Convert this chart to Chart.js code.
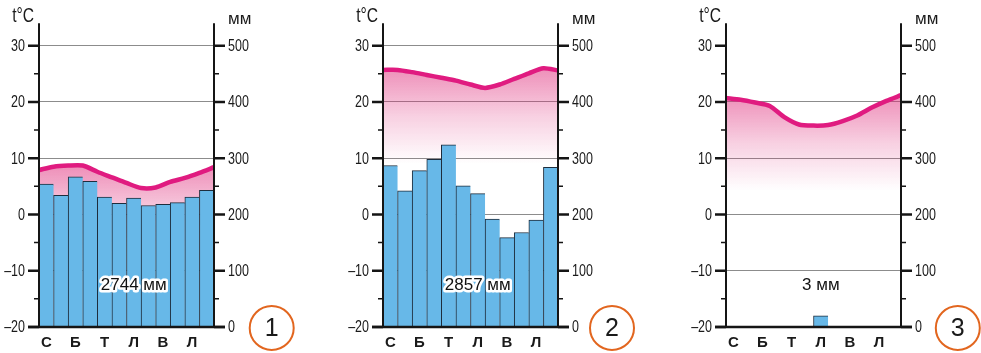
<!DOCTYPE html>
<html><head><meta charset="utf-8">
<script src="https://cdn.jsdelivr.net/npm/chart.js@4.4.1/dist/chart.umd.min.js"></script>
<style>
html,body{margin:0;padding:0;background:#fff;}
#wrap{position:relative;width:981px;height:353px;overflow:hidden;background:#fff;}
.p{position:absolute;top:0;}
</style></head><body>
<div id="wrap">
<canvas id="c1" class="p" style="left:0px" width="310" height="353"></canvas>
<canvas id="c2" class="p" style="left:343.7px" width="310" height="353"></canvas>
<canvas id="c3" class="p" style="left:687px" width="294" height="353"></canvas>
</div>
<script>
// ---- data ----
const months = ['С','','Б','','Т','','Л','','В','','Л',''];
const tempTicks = [-20,-10,0,10,20,30];
const mmTicks = [0,100,200,300,400,500];

const precip1 = [254,234,267,259,231,220,229,216,218,221,231,243];
const temp1 = [7.9,8.5,8.7,8.7,7.6,6.6,5.6,4.7,4.8,5.8,6.5,7.4,8.4];
const total1 = '2744 мм';

const precip2 = [287,242,278,298,324,251,237,192,159,168,190,284];
const temp2 = [25.7,25.7,25.3,24.8,24.3,23.8,23.1,22.5,23.1,24.1,25.1,26.0,25.6];
const total2 = '2857 мм';

const precip3 = [0,0,0,0,0,0,20,0,0,0,0,0];
const temp3 = [20.7,20.4,19.9,19.3,17.3,16.0,15.8,15.9,16.6,17.6,19.0,20.2,21.2];
const total3 = '3 мм';

// ---- styles ----
const REG = '"Liberation Sans",Arial,sans-serif';
const BAR = '#67b8e8';
const BAR_EDGE = '#1d2d3d';
const LINE = '#e01b80';
const AXIS = '#151515';
const TXT = '#1a1a1a';
const SQUEEZE = 0.78;

function narrowText(ctx, text, x, y, align, font) {
  ctx.save();
  ctx.font = font;
  ctx.textAlign = align;
  ctx.translate(x, y);
  ctx.scale(SQUEEZE, 1);
  ctx.fillText(text, 0, 0);
  ctx.restore();
}

const deco = {
  id: 'deco',
  afterDatasetsDraw(chart, args, opts) {
    const {ctx, chartArea: a, scales} = chart;
    const y = scales.y;
    const yR = scales.yR;
    ctx.save();
    ctx.strokeStyle = AXIS;
    // vertical axes
    ctx.lineWidth = 2;
    ctx.beginPath();
    ctx.moveTo(a.left, a.top); ctx.lineTo(a.left, a.bottom);
    ctx.moveTo(a.right, a.top); ctx.lineTo(a.right, a.bottom);
    ctx.stroke();
    // tick marks
    for (let i = 0; i < tempTicks.length; i++) {
      const py = y.getPixelForValue(tempTicks[i]);
      ctx.lineWidth = 2.5;
      ctx.beginPath();
      ctx.moveTo(a.left - 11, py); ctx.lineTo(a.left, py);
      ctx.moveTo(a.right, py); ctx.lineTo(a.right + 11, py);
      ctx.stroke();
      if (i < tempTicks.length - 1) {
        const pm = y.getPixelForValue((tempTicks[i] + tempTicks[i + 1]) / 2);
        ctx.lineWidth = 1.5;
        ctx.beginPath();
        ctx.moveTo(a.left - 5, pm); ctx.lineTo(a.left, pm);
        ctx.moveTo(a.right, pm); ctx.lineTo(a.right + 5, pm);
        ctx.stroke();
      }
    }
    // bottom line
    ctx.lineWidth = 2.5;
    ctx.beginPath();
    ctx.moveTo(a.left - 11, a.bottom); ctx.lineTo(a.right + 11, a.bottom);
    ctx.stroke();
    // tick labels (condensed)
    ctx.fillStyle = TXT;
    ctx.textBaseline = 'middle';
    tempTicks.forEach(v => {
      const lbl = v < 0 ? '\u2013' + Math.abs(v) : String(v);
      narrowText(ctx, lbl, a.left - 14, y.getPixelForValue(v) + 1, 'right', '16px ' + REG);
    });
    mmTicks.forEach(v => {
      narrowText(ctx, String(v), a.right + 14, yR.getPixelForValue(v) + 1, 'left', '16px ' + REG);
    });
    // axis titles
    ctx.textBaseline = 'alphabetic';
    narrowText(ctx, 't°C', a.left - 5, a.top - 1, 'right', '20px ' + REG);
    ctx.font = '17px ' + REG;
    ctx.textAlign = 'left';
    ctx.fillText('мм', a.right + 14, a.top + 0.5);
    // total label
    const xs = scales.x;
    const tx = xs.getPixelForValue(6);
    const ty = a.bottom - 42;
    ctx.font = '17px ' + REG;
    ctx.textAlign = 'center';
    ctx.textBaseline = 'middle';
    ctx.lineJoin = 'round';
    ctx.strokeStyle = '#ffffff';
    ctx.lineWidth = 5;
    ctx.strokeText(opts.total, tx, ty);
    ctx.fillStyle = '#111';
    ctx.fillText(opts.total, tx, ty);
    // circled number
    const cx = a.right + opts.circleDx;
    const cy = a.bottom + 1;
    ctx.strokeStyle = '#e2661f';
    ctx.lineWidth = 2;
    ctx.beginPath();
    ctx.arc(cx, cy, 22, 0, Math.PI * 2);
    ctx.stroke();
    ctx.fillStyle = '#1a1a1a';
    ctx.font = '25px ' + REG;
    ctx.fillText(opts.num, cx, cy + 1);
    ctx.restore();
  }
};

function makeChart(id, precip, temps, totalText, numText, rightW, circleDx, hideTop) {
  const tMax = Math.max(...temps);
  return new Chart(document.getElementById(id), {
    type: 'bar',
    data: {
      labels: months,
      datasets: [
        {
          type: 'bar', data: precip, xAxisID: 'x', yAxisID: 'yR',
          backgroundColor: BAR, borderColor: BAR_EDGE,
          borderWidth: {top: 1, left: 1, right: 0, bottom: 0}, borderSkipped: false,
          categoryPercentage: 1, barPercentage: 1, grouped: false
        },
        {
          type: 'line', data: temps.map((t, i) => ({x: i, y: t})), xAxisID: 'xL', yAxisID: 'y',
          borderColor: LINE, borderWidth: 4.5, pointRadius: 0, tension: 0.25,
          fill: 'start',
          backgroundColor: (c) => {
            const ch = c.chart;
            if (!ch.chartArea) return 'rgba(0,0,0,0)';
            const y0 = ch.scales.y.getPixelForValue(tMax);
            const y1 = ch.scales.y.getPixelForValue(tMax - 17);
            const g = ch.ctx.createLinearGradient(0, y0, 0, y1);
            g.addColorStop(0, 'rgba(222,40,120,0.52)');
            g.addColorStop(0.5, 'rgba(222,40,120,0.22)');
            g.addColorStop(1, 'rgba(222,40,120,0)');
            return g;
          }
        }
      ]
    },
    options: {
      responsive: false, animation: false, events: [],
      layout: {padding: {top: 23.2, left: 0, right: 0, bottom: 0}},
      plugins: {legend: {display: false}, tooltip: {enabled: false},
        deco: {total: totalText, num: numText, circleDx: circleDx}},
      scales: {
        x: {
          type: 'category', position: 'bottom', offset: true,
          grid: {display: false, drawTicks: false}, border: {display: false},
          ticks: {autoSkip: false, maxRotation: 0, padding: 7, color: TXT,
            font: {family: REG, size: 15, weight: 'bold'}},
          afterFit: (s) => { s.height = 26; }
        },
        xL: {type: 'linear', display: false, min: 0, max: 12, offset: false,
          grid: {offset: false}},
        y: {
          type: 'linear', position: 'left', min: -20, max: 34,
          afterBuildTicks: (s) => { s.ticks = tempTicks.map(v => ({value: v})); },
          grid: {drawTicks: false, lineWidth: 1,
            color: (c) => (hideTop && c.tick && c.tick.value === 30) ? 'rgba(0,0,0,0)' : '#8c8c8c'},
          border: {display: false},
          ticks: {display: false},
          afterFit: (s) => { s.width = 39; }
        },
        yR: {
          type: 'linear', position: 'right', min: 0, max: 540,
          afterBuildTicks: (s) => { s.ticks = mmTicks.map(v => ({value: v})); },
          grid: {display: false, drawTicks: false}, border: {display: false},
          ticks: {display: false},
          afterFit: (s) => { s.width = rightW; }
        }
      }
    },
    plugins: [deco]
  });
}

makeChart('c1', precip1, temp1, total1, '1', 96, 57.7, false);
makeChart('c2', precip2, temp2, total2, '2', 96, 54, false);
makeChart('c3', precip3, temp3, total3, '3', 80, 56.8, true);
</script>
</body></html>
